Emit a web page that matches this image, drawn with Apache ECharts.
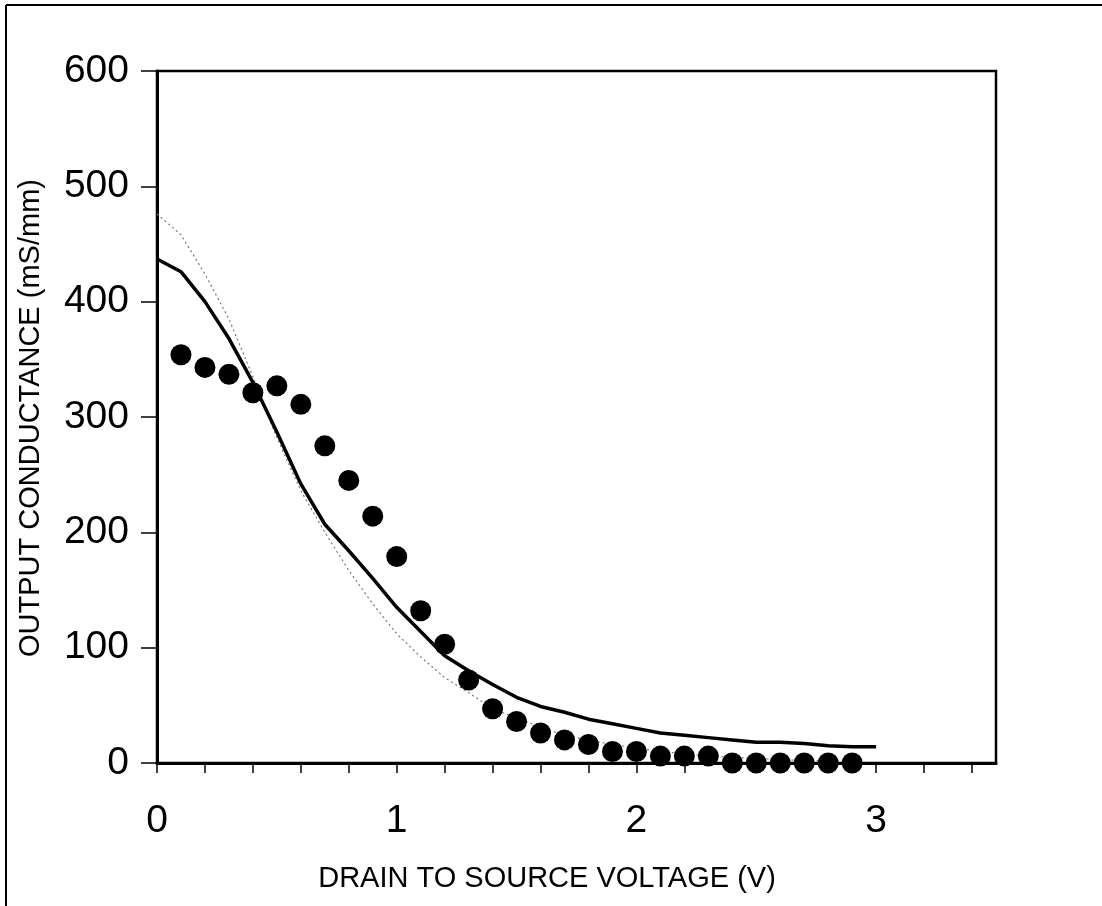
<!DOCTYPE html>
<html>
<head>
<meta charset="utf-8">
<script src="https://cdn.jsdelivr.net/npm/echarts@6/dist/echarts.min.js"></script>
<style>
  html, body { margin: 0; padding: 0; background: #fff; }
  #chart { width: 1102px; height: 906px; }
</style>
</head>
<body>
<div id="chart"></div>
<script>
// measured points (dots), x = 0.1 .. 2.9 V
const dotX = [0.1, 0.2, 0.3, 0.4, 0.5, 0.6, 0.7, 0.8, 0.9, 1.0,
    1.1, 1.2, 1.3, 1.4, 1.5, 1.6, 1.7, 1.8, 1.9, 2.0,
    2.1, 2.2, 2.3, 2.4, 2.5, 2.6, 2.7, 2.8, 2.9];
const dotY = [354, 343, 337, 321, 327, 311, 275, 245, 214, 179,
    132, 103, 72, 47, 36, 26, 20, 16, 10, 10,
    6, 6, 6, 0, 0, 0, 0, 0, 0];

// solid model curve, x = 0 .. 3.0 V
const solidX = [0, 0.1, 0.2, 0.3, 0.4, 0.5, 0.6, 0.7, 0.8, 0.9, 1.0,
    1.1, 1.2, 1.3, 1.4, 1.5, 1.6, 1.7, 1.8, 1.9, 2.0,
    2.1, 2.2, 2.3, 2.4, 2.5, 2.6, 2.7, 2.8, 2.9, 3.0];
const solidY = [437, 426, 400, 368, 330, 287, 242, 207, 184, 160, 135,
    114, 93, 80, 68, 57, 49, 44, 38, 34, 30,
    26, 24, 22, 20, 18, 18, 17, 15, 14, 14];

// dotted model curve, x = 0 .. 2.9 V
const dashX = [0, 0.1, 0.2, 0.3, 0.4, 0.5, 0.6, 0.7, 0.8, 0.9, 1.0,
    1.1, 1.2, 1.3, 1.4, 1.5, 1.6, 1.7, 1.8, 1.9, 2.0,
    2.1, 2.2, 2.3, 2.4, 2.5, 2.6, 2.7, 2.8, 2.9];
const dashY = [476, 458, 424, 385, 335, 282, 236, 200, 167, 138, 112,
    92, 74, 61, 47, 39, 31, 24, 20, 16, 13,
    10, 8, 6, 5, 4, 3, 2, 2, 1];

const xTitle = 'DRAIN TO SOURCE VOLTAGE (V)';
const yTitle = 'OUTPUT CONDUCTANCE (mS/mm)';

const font = '"Liberation Sans", Arial, sans-serif';
const zip = (xs, ys) => xs.map((x, i) => [x, ys[i]]);

const chart = echarts.init(document.getElementById('chart'));
chart.setOption({
    animation: false,
    backgroundColor: '#fff',
    grid: {
        left: 157, right: 106, top: 71, bottom: 143,
        show: true, borderColor: '#000', borderWidth: 2.5
    },
    xAxis: {
        type: 'value',
        min: 0, max: 3.5, interval: 0.2,
        axisLine: {lineStyle: {color: '#000', width: 3}},
        axisTick: {show: true, length: 10, lineStyle: {color: '#000', width: 1.5}},
        splitLine: {show: false},
        axisLabel: {
            color: '#000', fontFamily: font, fontSize: 39, margin: 39,
            showMaxLabel: false,
            formatter: v => (Math.abs(v - Math.round(v)) < 1e-6 ? String(Math.round(v)) : '')
        }
    },
    yAxis: {
        type: 'value',
        min: 0, max: 600, interval: 100,
        axisLine: {lineStyle: {color: '#000', width: 3}},
        axisTick: {show: true, length: 16, lineStyle: {color: '#000', width: 1.5}},
        splitLine: {show: false},
        axisLabel: {color: '#000', fontFamily: font, fontSize: 39, margin: 28}
    },
    graphic: [
        {
            type: 'line', silent: true,
            shape: {x1: 6, y1: 5, x2: 1102, y2: 5},
            style: {stroke: '#000', lineWidth: 2}
        },
        {
            type: 'line', silent: true,
            shape: {x1: 6, y1: 5, x2: 6, y2: 906},
            style: {stroke: '#000', lineWidth: 2}
        },
        {
            type: 'text', x: 547, y: 879,
            style: {text: xTitle, fill: '#000', font: '29px ' + font, textAlign: 'center', textVerticalAlign: 'middle'}
        },
        {
            type: 'text', x: 31, y: 418, rotation: Math.PI / 2,
            style: {text: yTitle, fill: '#000', font: '29px ' + font, textAlign: 'center', textVerticalAlign: 'middle'}
        }
    ],
    series: [
        {
            type: 'line',
            data: zip(dashX, dashY),
            showSymbol: false,
            lineStyle: {color: '#777', width: 1.2, type: [2, 3]},
            z: 2
        },
        {
            type: 'line',
            data: zip(solidX, solidY),
            showSymbol: false,
            lineStyle: {color: '#000', width: 3.5, join: 'round'},
            z: 3
        },
        {
            type: 'scatter',
            data: zip(dotX, dotY),
            symbol: 'circle',
            symbolSize: 21,
            clip: false,
            itemStyle: {color: '#000', opacity: 1},
            z: 4
        }
    ]
});
</script>
</body>
</html>
